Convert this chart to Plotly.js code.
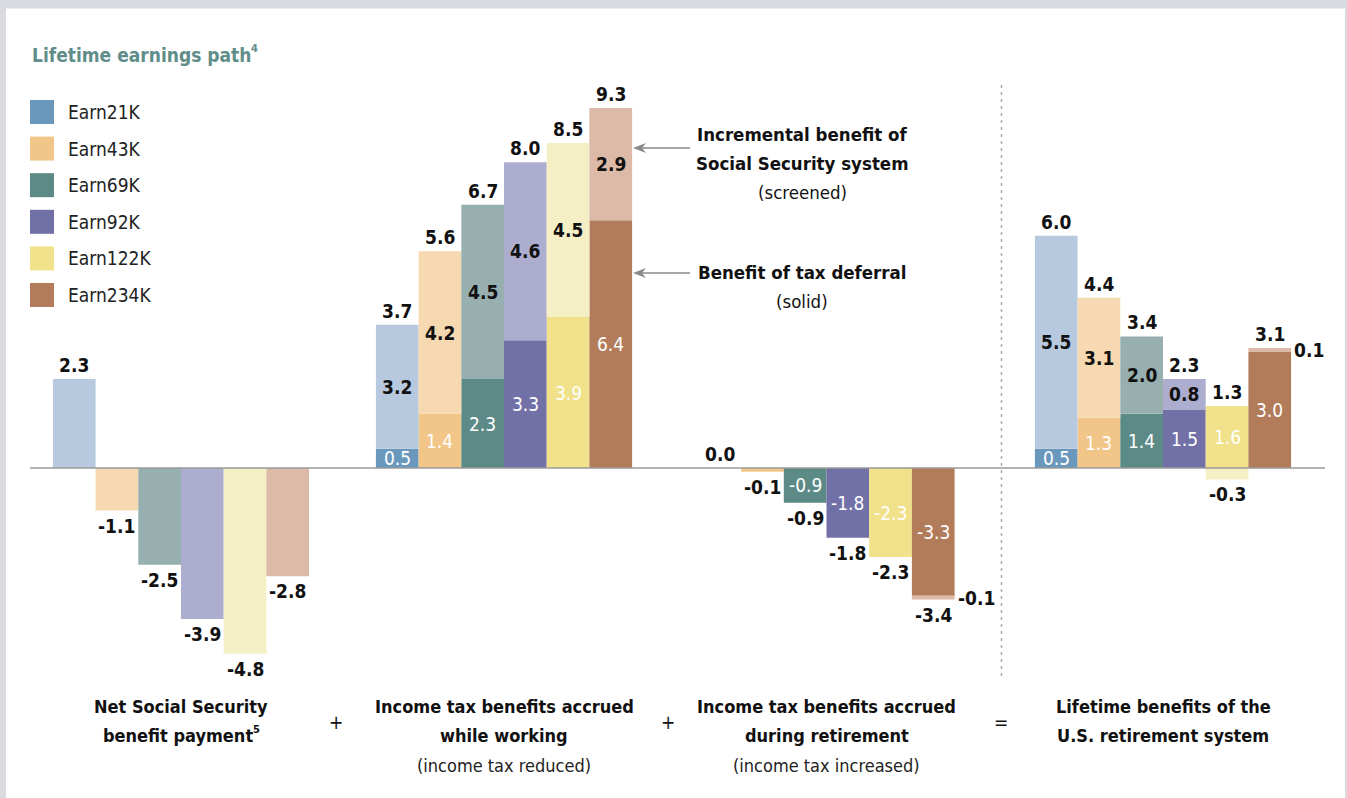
<!DOCTYPE html>
<html>
<head>
<meta charset="utf-8">
<script src="https://cdn.plot.ly/plotly-3.0.1.min.js"></script>
<style>html,body{margin:0;padding:0;background:#d9dbe1;}#chart{width:1347px;height:798px;}</style>
</head>
<body>
<div id="chart"></div>
<script>
// ---------- DATA ----------
const series = ["Earn21K", "Earn43K", "Earn69K", "Earn92K", "Earn122K", "Earn234K"];
const legendTitle = "Lifetime earnings path";
const legendTitleNote = "4";
const categoryLines = [
  ["Net Social Security", "benefit payment"],
  ["Income tax benefits accrued", "while working"],
  ["Income tax benefits accrued", "during retirement"],
  ["Lifetime benefits of the", "U.S. retirement system"]
];
const categoryNote = ["5", "", "", ""];
const categorySub = ["", "(income tax reduced)", "(income tax increased)", ""];
const operators = ["+", "+", "="];

// Benefit of tax deferral (solid), per earnings path across the 4 groups
const solid21K  = [0, 0.5,  0.0, 0.5];
const solid43K  = [0, 1.4, -0.1, 1.3];
const solid69K  = [0, 2.3, -0.9, 1.4];
const solid92K  = [0, 3.3, -1.8, 1.5];
const solid122K = [0, 3.9, -2.3, 1.6];
const solid234K = [0, 6.4, -3.3, 3.0];
// Incremental benefit of Social Security system (screened)
const screen21K  = [ 2.3, 3.2,  0.0,  5.5];
const screen43K  = [-1.1, 4.2,  0.0,  3.1];
const screen69K  = [-2.5, 4.5,  0.0,  2.0];
const screen92K  = [-3.9, 4.6,  0.0,  0.8];
const screen122K = [-4.8, 4.5,  0.0, -0.3];
const screen234K = [-2.8, 2.9, -0.1,  0.1];
// Totals as printed
const total21K  = [ 2.3, 3.7,  0.0, 6.0];
const total43K  = [-1.1, 5.6, -0.1, 4.4];
const total69K  = [-2.5, 6.7, -0.9, 3.4];
const total92K  = [-3.9, 8.0, -1.8, 2.3];
const total122K = [-4.8, 8.5, -2.3, 1.3];
const total234K = [-2.8, 9.3, -3.4, 3.1];

const solidVals  = [solid21K, solid43K, solid69K, solid92K, solid122K, solid234K];
const screenVals = [screen21K, screen43K, screen69K, screen92K, screen122K, screen234K];
const totalVals  = [total21K, total43K, total69K, total92K, total122K, total234K];

const noteLines = [["Incremental benefit of", true], ["Social Security system", true], ["(screened)", false],
                   ["Benefit of tax deferral", true], ["(solid)", false]];

// ---------- STYLE ----------
const solidColors  = ["#6a98bc", "#f2c688", "#5c8a86", "#7171a8", "#f0e18a", "#b27c5a"];
const screenColors = ["#b7c9de", "#f6d9b0", "#97afaf", "#adadcf", "#f5efc6", "#dcbaa7"];
const W = 1347, H = 798;
const zeroPx = 468, pxPerUnit = 38.7;
const groupCenters = [181, 504, 826.5, 1163];
const barW = 42.7;
const FONT = "DejaVu Sans Condensed, Liberation Sans Narrow, Roboto, sans-serif";
const py = p => 1 - p / H;

const xOf = (g, i) => groupCenters[g] + (i - 2.5) * barW;

const traces = [];
series.forEach((s, i) => {
  const xs = groupCenters.map((c, g) => xOf(g, i));
  traces.push({type: "bar", x: xs, y: solidVals[i], width: barW, name: s + " solid",
    marker: {color: solidColors[i], line: {width: 0}}, hoverinfo: "skip"});
});
series.forEach((s, i) => {
  const xs = groupCenters.map((c, g) => xOf(g, i));
  traces.push({type: "bar", x: xs, y: screenVals[i], width: barW, name: s + " screened",
    marker: {color: screenColors[i], line: {width: 0}}, hoverinfo: "skip"});
});

const ann = [];
const numFont = (c, bold) => ({family: FONT, size: 19, color: c, weight: bold ? 700 : 400});

series.forEach((s, i) => {
  for (let g = 0; g < 4; g++) {
    const x = xOf(g, i);
    const sv = solidVals[i][g], cv = screenVals[i][g], tv = totalVals[i][g];
    const posTop = Math.max(0, sv) + Math.max(0, cv);
    const negBot = Math.min(0, sv) + Math.min(0, cv);
    // total label
    if (tv >= 0) {
      ann.push({x: x, y: posTop, xref: "x", yref: "y", text: tv.toFixed(1), showarrow: false,
        yanchor: "bottom", yshift: 1, font: numFont("#111", true)});
    } else {
      ann.push({x: x, y: negBot, xref: "x", yref: "y", text: tv.toFixed(1), showarrow: false,
        yanchor: "top", yshift: -2, font: numFont("#111", true)});
    }
    if (g === 0) continue;
    // solid segment label
    if (Math.abs(sv) >= 0.5) {
      ann.push({x: x, y: sv / 2, xref: "x", yref: "y", text: sv.toFixed(1), showarrow: false,
        yanchor: "middle", font: numFont("#ffffff", false)});
    }
    // screened segment label
    if (cv !== 0) {
      if (Math.abs(cv) < 0.2) {
        const base = cv > 0 ? Math.max(0, sv) : Math.min(0, sv);
        ann.push({x: x + barW / 2, y: base + cv / 2, xref: "x", yref: "y", text: cv.toFixed(1),
          showarrow: false, xanchor: "left", yanchor: "middle", xshift: 1, font: numFont("#111", true)});
      } else if (Math.sign(cv) !== Math.sign(sv)) {
        ann.push({x: x, y: cv, xref: "x", yref: "y", text: cv.toFixed(1), showarrow: false,
          yanchor: cv < 0 ? "top" : "bottom", yshift: cv < 0 ? -1 : 1, font: numFont("#111", true)});
      } else {
        ann.push({x: x, y: sv + cv / 2, xref: "x", yref: "y", text: cv.toFixed(1), showarrow: false,
          yanchor: "middle", font: numFont("#111", true)});
      }
    }
  }
});

// Panel + legend
const shapes = [];
shapes.push({type: "rect", xref: "paper", yref: "paper", x0: 6 / W, x1: 1345 / W, y0: 0, y1: py(8.5),
  fillcolor: "#ffffff", line: {width: 0}, layer: "below"});
ann.push({x: 30, y: py(55), xref: "x", yref: "paper", xanchor: "left", yanchor: "middle", showarrow: false,
  text: legendTitle, font: {family: FONT, size: 19, color: "#5f8d8a", weight: 700}});
ann.push({x: 249, y: py(48), xref: "x", yref: "paper", xanchor: "left", yanchor: "middle", showarrow: false,
  text: legendTitleNote, font: {family: FONT, size: 11, color: "#5f8d8a", weight: 700}});
series.forEach((s, i) => {
  const cy = 112 + i * 36.6;
  shapes.push({type: "rect", xref: "x", yref: "paper", x0: 30, x1: 54, y0: py(cy - 12), y1: py(cy + 12),
    fillcolor: solidColors[i], line: {width: 0}});
  ann.push({x: 66, y: py(cy), xref: "x", yref: "paper", xanchor: "left", yanchor: "middle", showarrow: false,
    text: s, font: {family: FONT, size: 19, color: "#222"}});
});

// Zero line and divider
shapes.push({type: "line", xref: "x", yref: "y", x0: 30, x1: 1325, y0: 0, y1: 0,
  line: {color: "#9a9a9a", width: 1.5}, layer: "above"});
shapes.push({type: "line", xref: "x", yref: "paper", x0: 1001.5, x1: 1001.5, y0: py(85), y1: py(678),
  line: {color: "#aaaaaa", width: 1.5, dash: "3px,4px"}});

// Explanatory notes with arrows
const noteX = 802;
const noteY = [134, 163, 192, 273, 301];
noteLines.forEach((l, k) => {
  ann.push({x: noteX, y: py(noteY[k]), xref: "x", yref: "paper", showarrow: false, text: l[0],
    yanchor: "middle", font: {family: FONT, size: 18.5, color: "#111", weight: l[1] ? 700 : 400}});
});
[148, 273].forEach(yy => {
  shapes.push({type: "line", xref: "x", yref: "paper", x0: 640, x1: 690, y0: py(yy), y1: py(yy),
    line: {color: "#8a8a8a", width: 1.3}});
  shapes.push({type: "path", xref: "x", yref: "paper",
    path: `M 633 ${py(yy)} L 646 ${py(yy - 5)} L 642 ${py(yy)} L 646 ${py(yy + 5)} Z`,
    fillcolor: "#8a8a8a", line: {width: 0}});
});

// Category labels
categoryLines.forEach((lines, g) => {
  const hasNote = categoryNote[g] !== "";
  const cx = groupCenters[g] - (hasNote ? 3 : 0);
  lines.forEach((t, k) => {
    ann.push({x: k === 1 ? cx : groupCenters[g], y: py(706 + k * 29.5), xref: "x", yref: "paper", showarrow: false, text: t,
      yanchor: "middle", font: {family: FONT, size: 18, color: "#111", weight: 700}});
  });
  if (hasNote) {
    ann.push({x: cx + 73, y: py(729), xref: "x", yref: "paper", xanchor: "left", yanchor: "middle",
      showarrow: false, text: categoryNote[g], font: {family: FONT, size: 11, color: "#111", weight: 700}});
  }
  if (categorySub[g]) {
    ann.push({x: groupCenters[g], y: py(765), xref: "x", yref: "paper", showarrow: false, text: categorySub[g],
      yanchor: "middle", font: {family: FONT, size: 18, color: "#222"}});
  }
});
const opX = [336, 668, 1001];
operators.forEach((op, k) => {
  ann.push({x: opX[k], y: py(722), xref: "x", yref: "paper", showarrow: false, text: op,
    yanchor: "middle", font: {family: FONT, size: 19, color: "#111"}});
});

const layout = {
  width: W, height: H,
  margin: {l: 0, r: 0, t: 0, b: 0, pad: 0},
  paper_bgcolor: "#d9dbe1", plot_bgcolor: "rgba(0,0,0,0)",
  barmode: "relative",
  showlegend: false,
  xaxis: {range: [0, W], visible: false, fixedrange: true},
  yaxis: {range: [-(H - zeroPx) / pxPerUnit, zeroPx / pxPerUnit], visible: false, fixedrange: true},
  shapes: shapes,
  annotations: ann,
  font: {family: FONT}
};
Plotly.newPlot("chart", traces, layout, {displayModeBar: false, staticPlot: true});
</script>
</body>
</html>
